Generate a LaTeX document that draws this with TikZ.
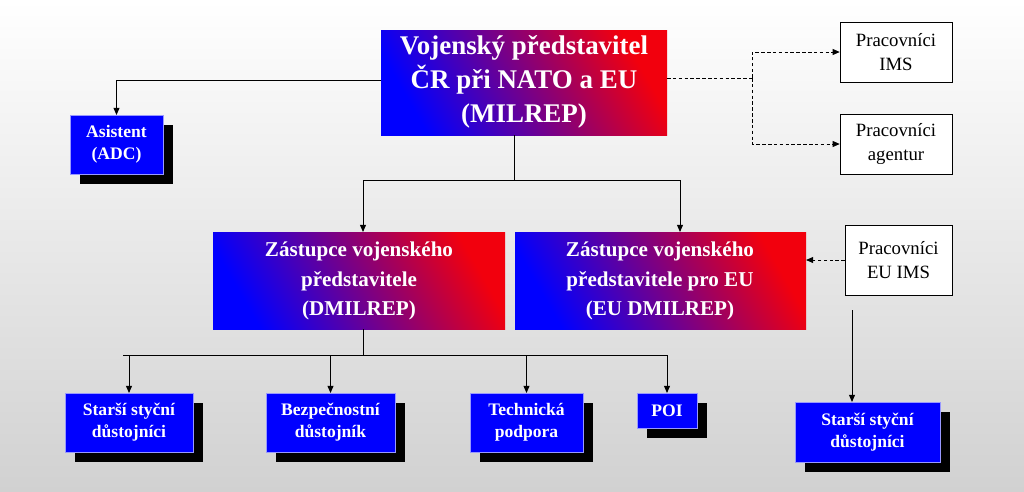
\documentclass[tikz,border=0pt]{standalone}
\usepackage{fontspec}
\setmainfont{Liberation Serif}
\usetikzlibrary{arrows.meta}
\begin{document}
\begin{tikzpicture}[x=0.03cm,y=-0.03cm,
  whitebox/.style={fill=white,draw=black,align=center,font=\fontsize{16}{20}\selectfont},
  conn/.style={draw=black,line width=0.8pt},
  arr/.style={-{Triangle[length=6pt,width=5pt]}},
  dsh/.style={dash pattern=on 3pt off 2pt}]
\shade[top color=white,bottom color=black!18] (0,0) rectangle (1024,491);
\useasboundingbox (0,0) rectangle (1024,491);
% gradient boxes
\path[left color=blue,right color=red!95!blue,shading angle=120] (381,30) rectangle (667,135);
\node[text=white,font=\bfseries\fontsize{23}{29}\selectfont,align=center] (mil) at (524,82) {Vojenský představitel\\ČR při NATO a EU\\(MILREP)};
\coordinate (milL) at (381,80); \coordinate (milR) at (667,78); \coordinate (milB) at (514,135);
\path[left color=blue,right color=red!95!blue,shading angle=120] (213,232) rectangle (505,329);
\node[text=white,font=\bfseries\fontsize{18}{25}\selectfont,align=center] (d1) at (359,281) {Zástupce vojenského\\představitele\\(DMILREP)};
\path[left color=blue,right color=red!95!blue,shading angle=120] (515,232) rectangle (806,329);
\node[text=white,font=\bfseries\fontsize{18}{25}\selectfont,align=center] (d2) at (660,281) {Zástupce vojenského\\představitele pro EU\\(EU DMILREP)};
\coordinate (d1B) at (363,329);
% blue boxes with shadows
\foreach \n/\xa/\xb/\ya/\yb/\t in {asi/70/163/115/174/{Asistent\\(ADC)},s1/65/193/393/452/{Starší styční\\důstojníci},b1/266/395/393/452/{Bezpečnostní\\důstojník},t1/470/583/393/452/{Technická\\podpora},p1/637/697/393/428/{POI},s2/795/940/402/462/{Starší styční\\důstojníci}}{
  \fill (\xa+10,\ya+10) rectangle (\xb+10,\yb+10);
  \filldraw[fill=blue,draw=blue!40] (\xa,\ya) rectangle (\xb,\yb);
  \node[text=white,font=\bfseries\fontsize{15}{19}\selectfont,align=center] (\n) at ({(\xa+\xb)/2},{(\ya+\yb)/2}) {\t};
  \coordinate (\n T) at ({(\xa+\xb)/2},\ya);
}
% white boxes
\node[whitebox,minimum width=3.36cm,minimum height=1.8cm] (ims) at (896,52) {Pracovníci\\IMS};
\node[whitebox,minimum width=3.36cm,minimum height=1.8cm] (age) at (896,144) {Pracovníci\\agentur};
\node[whitebox,minimum width=3.21cm,minimum height=2.1cm] (eu) at (898.5,260) {Pracovníci\\EU IMS};
% connectors
\draw[conn,arr] (milL) -| (asiT);
\draw[conn,dsh] (milR) -- (752,78) coordinate (jd);
\draw[conn,dsh,arr] (jd) |- (ims.west);
\draw[conn,dsh,arr] (jd) |- (age.west);
\draw[conn] (milB) -- (514,180) coordinate (j1);
\draw[conn,arr] (j1) -| (363,232);
\draw[conn,arr] (j1) -| (680,232);
\draw[conn,dsh,arr] (eu.west) -- (806,260);
\draw[conn,arr] (852,310) -- (s2T -| 852,0);
\draw[conn] (d1B) -- (363,355) coordinate (j2);
\draw[conn] (123,355) -- (667,355);
\foreach \n in {s1,b1,t1,p1}{\draw[conn,arr] (\n T |- j2) -- (\n T);}
\end{tikzpicture}
\end{document}
